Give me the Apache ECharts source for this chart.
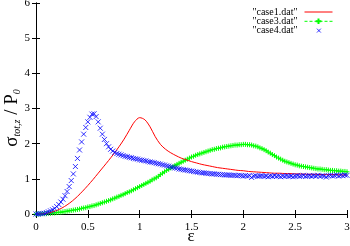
<!DOCTYPE html>
<html><head><meta charset="utf-8">
<script src="https://cdn.jsdelivr.net/npm/echarts@6/dist/echarts.min.js"></script>
<style>html,body{margin:0;padding:0;background:#fff}#c{width:350px;height:246px}</style>
</head><body><div id="c"></div>
<script>
// x sampling grids
const stepDense = 0.02;   // case3, case4
const stepLine = 0.05;    // case1
const xTicks = ['0','0.5','1','1.5','2','2.5','3'];
const yTicks = ['0','1','2','3','4','5','6'];
const seriesNames = ['"case1.dat"', '"case3.dat"', '"case4.dat"'];

const case1 = [0.00,0.00,0.02,0.05,0.10,0.17,0.26,0.37,0.50,0.65,
  0.81,0.98,1.16,1.34,1.52,1.71,1.91,2.13,2.38,2.62,
  2.74,2.68,2.48,2.20,1.98,1.84,1.74,1.66,1.59,1.54,
  1.49,1.45,1.41,1.38,1.35,1.32,1.30,1.28,1.26,1.24,
  1.23,1.21,1.20,1.19,1.18,1.17,1.16,1.16,1.15,1.15,
  1.14,1.14,1.13,1.13,1.13,1.12,1.12,1.12,1.12,1.11,1.11];

const case3 = [0.00,0.00,0.00,0.01,0.01,0.01,0.02,0.02,0.03,0.03,
  0.04,0.05,0.05,0.06,0.07,0.08,0.09,0.10,0.11,0.12,
  0.13,0.14,0.16,0.17,0.18,0.20,0.21,0.23,0.24,0.26,
  0.28,0.30,0.32,0.34,0.36,0.38,0.40,0.43,0.45,0.48,
  0.50,0.53,0.55,0.58,0.61,0.63,0.66,0.69,0.72,0.75,
  0.78,0.81,0.84,0.87,0.90,0.93,0.97,1.00,1.03,1.07,
  1.12,1.16,1.20,1.24,1.27,1.31,1.34,1.38,1.41,1.44,
  1.47,1.50,1.53,1.56,1.59,1.62,1.64,1.67,1.69,1.71,
  1.73,1.75,1.77,1.79,1.81,1.83,1.84,1.86,1.87,1.88,
  1.90,1.91,1.92,1.93,1.94,1.95,1.96,1.96,1.97,1.97,
  1.98,1.98,1.97,1.97,1.96,1.94,1.93,1.91,1.88,1.86,
  1.83,1.80,1.76,1.73,1.69,1.66,1.62,1.59,1.56,1.53,
  1.50,1.48,1.46,1.44,1.42,1.40,1.39,1.37,1.36,1.35,
  1.34,1.33,1.32,1.31,1.30,1.29,1.28,1.28,1.27,1.26,
  1.26,1.25,1.24,1.24,1.23,1.23,1.22,1.22,1.21,1.21,
  1.20];

const case4 = [0.00,0.00,0.01,0.01,0.02,0.04,0.06,0.09,0.12,0.16,
  0.21,0.27,0.34,0.42,0.52,0.64,0.78,0.95,1.14,1.35,
  1.58,1.82,2.05,2.27,2.46,2.62,2.75,2.84,2.85,2.77,
  2.62,2.44,2.27,2.12,2.00,1.91,1.84,1.79,1.75,1.72,
  1.70,1.68,1.66,1.64,1.63,1.61,1.60,1.58,1.57,1.56,
  1.54,1.53,1.52,1.51,1.49,1.48,1.47,1.46,1.44,1.43,
  1.42,1.40,1.39,1.37,1.36,1.34,1.33,1.31,1.30,1.28,
  1.27,1.26,1.25,1.24,1.23,1.22,1.21,1.20,1.19,1.18,
  1.17,1.17,1.16,1.15,1.15,1.14,1.14,1.13,1.13,1.12,
  1.12,1.11,1.11,1.11,1.10,1.10,1.10,1.09,1.10,1.09,
  1.08,1.09,1.08,1.09,1.04,1.08,1.09,1.07,1.08,1.09,
  1.07,1.08,1.06,1.08,1.07,1.09,1.07,1.08,1.06,1.08,
  1.07,1.09,1.07,1.08,1.06,1.08,1.09,1.07,1.08,1.10,
  1.07,1.08,1.09,1.07,1.09,1.08,1.10,1.07,1.09,1.08,
  1.05,1.09,1.10,1.08,1.09,1.11,1.08,1.10,1.09,1.11,
  1.10];

function pairs(arr, step){ return arr.map((v,i)=>[+(i*step).toFixed(4), v]); }

const serif = '"Liberation Serif", "DejaVu Serif", serif';
const chart = echarts.init(document.getElementById('c'), null, {renderer:'canvas'});
const axisCommon = {
  min: 0, axisLine:{show:true, lineStyle:{color:'#000', width:1}},
  axisTick:{show:true, inside:true, length:4, lineStyle:{color:'#000'}},
  splitLine:{show:false}
};
chart.setOption({
  animation:false,
  backgroundColor:'#fff',
  grid:{left:36, right:3, top:3, bottom:32, show:false, containLabel:false, outerBoundsMode:'none'},
  legend:{
    data:[
      {name:seriesNames[0], itemStyle:{opacity:0}},
      {name:seriesNames[1]},
      {name:seriesNames[2], icon:'path://M0,0L0,0M12,2L17,7M17,2L12,7M28,9L28,9',
        itemStyle:{color:'transparent', borderColor:'#0000ff', borderWidth:1}}
    ],
    orient:'vertical', right:12, top:2, align:'right',
    itemWidth:28, itemHeight:7, itemGap:-1,
    lineStyle:{width:1},
    textStyle:{fontFamily:serif, fontSize:10, lineHeight:9, color:'#000', padding:[0,2,0,0]}
  },
  graphic:[{
    type:'text', x:12, y:118, rotation:Math.PI/2,
    style:{
      text:'{m|σ}{s|tot,z}{m| / P}{s|0}', align:'center', verticalAlign:'middle',
      rich:{m:{fontSize:19, fontFamily:serif, fill:'#000'},
            s:{fontSize:10, fontFamily:serif, fontStyle:'italic', fill:'#000', padding:[10,0,0,0]}}
    }
  },{
    type:'text', x:191, y:237,
    style:{text:'ε', align:'center', verticalAlign:'middle', fontSize:17, fontFamily:serif, fill:'#000'}
  }],
  xAxis:[
    Object.assign({}, axisCommon, {type:'value', max:3, interval:0.5, position:'bottom',
      axisLabel:{color:'#000', fontFamily:serif, fontSize:11, margin:8,
        formatter:(v)=>xTicks[Math.round(v/0.5)]}}),
    Object.assign({}, axisCommon, {type:'value', max:3, interval:0.5, position:'top',
      axisLabel:{show:false}})
  ],
  yAxis:[
    Object.assign({}, axisCommon, {type:'value', max:6, interval:1, position:'left',
      axisLabel:{color:'#000', fontFamily:serif, fontSize:11, margin:6,
        formatter:(v)=>yTicks[Math.round(v)]}}),
    Object.assign({}, axisCommon, {type:'value', max:6, interval:1, position:'right',
      axisLabel:{show:false}})
  ],
  series:[
    {name:seriesNames[0], type:'line', data:pairs(case1, stepLine), smooth:0.3,
      showSymbol:false, symbol:'none', color:'#ff0000',
      lineStyle:{color:'#ff0000', width:1}, z:3},
    {name:seriesNames[1], type:'line', data:pairs(case3, stepDense),
      symbol:'path://M5,0L5,10M0,5L10,5', symbolSize:5, showAllSymbol:true,
      color:'#00ff00',
      itemStyle:{color:'none', borderColor:'#00ff00', borderWidth:1},
      lineStyle:{color:'#00ff00', width:1, type:[3,2]}, z:2},
    {name:seriesNames[2], type:'scatter', data:pairs(case4, stepDense),
      symbol:'path://M0,0L10,10M10,0L0,10', symbolSize:5,
      color:'#0000ff',
      itemStyle:{color:'none', borderColor:'#0000ff', borderWidth:1}, z:4}
  ]
});
</script></body></html>
